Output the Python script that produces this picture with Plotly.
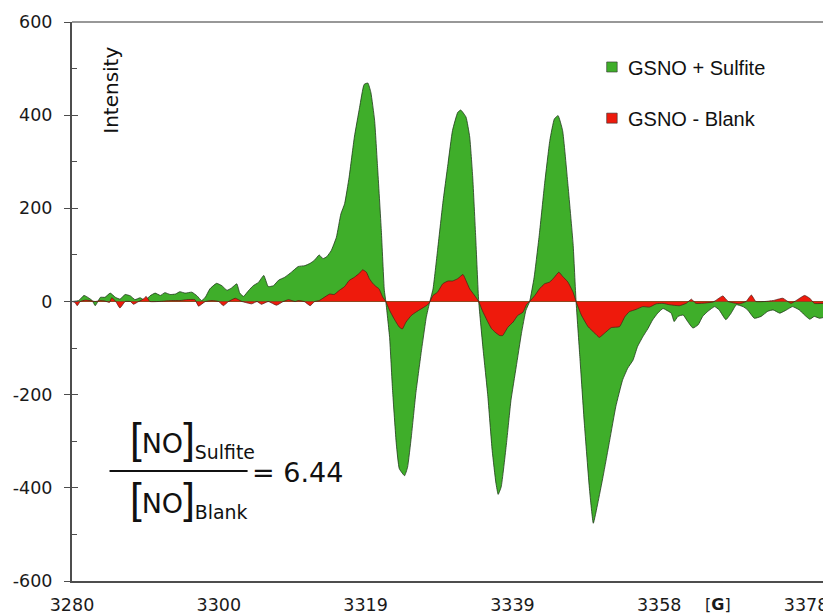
import plotly.graph_objects as go

# ---------------- data ----------------
green_x = [3280.0, 3280.9, 3281.6, 3282.2, 3282.7, 3283.1, 3283.8, 3284.4, 3285.1, 3285.8,
           3286.4, 3287.1, 3287.8, 3288.4, 3289.1, 3289.8, 3290.4, 3291.1, 3291.8, 3292.4,
           3293.1, 3293.8, 3294.4, 3295.1, 3296.0, 3296.7, 3297.3, 3297.8, 3298.4, 3299.3,
           3300.0, 3300.7, 3301.3, 3302.0, 3302.4, 3302.9, 3303.6, 3304.2, 3304.9, 3305.6,
           3306.2, 3306.9, 3307.6, 3308.4, 3309.3, 3310.2, 3311.1, 3311.8, 3312.4, 3313.0,
           3313.5, 3314.0, 3314.6, 3315.3, 3315.9, 3316.4, 3317.0, 3317.7, 3318.4, 3319.0,
           3319.5, 3319.9, 3320.4, 3320.8, 3321.3, 3321.7, 3321.9, 3322.4, 3322.8, 3323.3,
           3323.7, 3324.4, 3324.8, 3325.3, 3325.9, 3326.6, 3327.3, 3327.7, 3328.2, 3328.8,
           3329.5, 3330.2, 3330.8, 3331.5, 3331.9, 3332.6, 3333.1, 3333.5, 3333.9, 3334.3,
           3334.9, 3335.5, 3336.1, 3336.6, 3336.9, 3337.3, 3338.0, 3338.6, 3339.3, 3340.0,
           3340.6, 3341.1, 3341.7, 3342.4, 3343.1, 3343.8, 3344.4, 3344.9, 3345.5, 3346.2,
           3346.9, 3347.3, 3347.8, 3348.4, 3349.1, 3349.6, 3350.2, 3350.9, 3351.8, 3352.6,
           3353.5, 3354.2, 3354.9, 3355.5, 3356.2, 3356.9, 3357.5, 3358.2, 3358.9, 3359.3,
           3360.0, 3360.4, 3360.9, 3361.6, 3362.2, 3362.9, 3363.6, 3364.2, 3364.9, 3365.8,
           3366.4, 3367.3, 3368.0, 3368.7, 3369.6, 3370.2, 3371.1, 3372.0, 3372.9, 3373.6,
           3374.5, 3375.4, 3376.2, 3377.1, 3377.8, 3378.5, 3379.1, 3379.8, 3380.4]
green_y = [0, 2, 13, 8, 2, -9, 9, 9, 18, 9,
           5, 15, 12, 4, 8, 2, 12, 18, 13, 19,
           15, 16, 21, 18, 20, 12, 2, 9, 27, 39,
           34, 24, 29, 38, 18, 11, 24, 34, 41, 56,
           32, 34, 46, 52, 63, 75, 77, 82, 89, 100,
           92, 96, 109, 138, 188, 210, 267, 353, 417, 466,
           469, 449, 389, 288, 152, 24, 0, -77, -191, -306,
           -359, -374, -356, -291, -198, -112, -34, -5, 27, 109,
           210, 296, 367, 406, 411, 396, 353, 267, 138, 0,
           -105, -200, -320, -390, -414, -398, -306, -213, -141, -69,
           -19, 0, 52, 145, 253, 346, 392, 399, 367, 253,
           124, 0, -118, -261, -405, -476, -433, -376, -297, -226,
           -169, -143, -126, -97, -76, -58, -40, -25, -15, -18,
           -25, -43, -32, -29, -43, -57, -50, -32, -21, -11,
           -18, -39, -25, -7, -11, -18, -36, -32, -21, -18,
           -25, -18, -11, -18, -29, -38, -32, -36, -34]

red_x = [3280.0, 3280.4, 3280.7, 3281.1, 3281.8, 3282.4, 3283.1, 3283.8, 3284.4, 3285.0,
         3285.3, 3285.8, 3286.4, 3287.1, 3287.8, 3288.2, 3288.9, 3289.5, 3289.9, 3290.4,
         3291.5, 3292.4, 3293.3, 3294.4, 3295.3, 3296.4, 3296.9, 3297.8, 3298.7, 3299.6,
         3300.2, 3300.9, 3301.8, 3302.7, 3304.0, 3304.7, 3305.3, 3306.2, 3307.3, 3308.2,
         3308.9, 3309.8, 3310.2, 3311.0, 3311.8, 3312.4, 3313.0, 3313.5, 3314.4, 3315.0,
         3315.7, 3316.4, 3317.0, 3317.7, 3318.4, 3318.8, 3319.3, 3319.7, 3320.2, 3320.6,
         3321.0, 3321.5, 3321.9, 3322.4, 3323.0, 3323.7, 3324.1, 3324.6, 3325.3, 3325.9,
         3326.6, 3327.3, 3327.7, 3328.2, 3328.8, 3329.5, 3330.2, 3330.8, 3331.5, 3332.2,
         3332.6, 3333.1, 3333.7, 3334.3, 3334.8, 3335.4, 3336.0, 3336.5, 3337.1, 3337.5,
         3338.2, 3338.9, 3339.5, 3340.2, 3340.7, 3341.1, 3341.8, 3342.4, 3343.1, 3343.8,
         3344.4, 3345.0, 3345.5, 3346.2, 3346.9, 3347.3, 3348.0, 3348.9, 3349.8, 3350.4,
         3351.1, 3352.0, 3353.1, 3353.8, 3354.4, 3355.3, 3356.2, 3357.1, 3358.0, 3358.9,
         3359.8, 3361.1, 3362.0, 3362.7, 3363.3, 3365.6, 3366.9, 3367.6, 3369.1, 3370.0,
         3370.7, 3371.3, 3372.5, 3373.6, 3374.9, 3376.0, 3377.8, 3378.5, 3379.1, 3380.4]
red_y = [0, -2, -9, 0, 3, 2, 0, 2, 1, -2,
         8, 1, -14, 0, 0, -6, 0, 5, 11, 0,
         0, 1, 2, 2, 4, 4, -10, 0, 2, 0,
         -9, 0, 7, 0, -5, 0, -6, 0, -8, 0,
         4, 0, 2, 0, -9, 0, 2, 7, 16, 15,
         24, 32, 45, 52, 61, 68, 63, 49, 38, 32,
         27, 9, 0, -19, -37, -55, -59, -44, -30, -23,
         -16, -9, -3, 13, 20, 38, 44, 44, 49, 58,
         45, 27, 14, 0, -20, -40, -58, -66, -73, -73,
         -55, -44, -30, -23, -6, 0, 13, 27, 38, 42,
         52, 63, 54, 42, 20, 0, -29, -54, -68, -77,
         -68, -56, -54, -33, -22, -17, -11, -12, -5, -4,
         -7, -9, -4, 5, -4, -1, 12, 0, -5, 0,
         14, 0, 0, 2, 7, -4, 13, 7, -4, -4]

x_tick_vals = [3280.0, 3299.6, 3319.2, 3338.8, 3358.4, 3378.0]
x_tick_text = ["3280", "3300", "3319", "3339", "3358", "3378"]
y_tick_vals = [600, 400, 200, 0, -200, -400, -600]
y_tick_text = ["600", "400", "200", "0", "-200", "-400", "-600"]
series_names = ["GSNO + Sulfite", "GSNO - Blank"]
series_colors = ["#3fae2a", "#ee1a0c"]
ratio_text = "6.44"

# ---------------- figure ----------------
fig = go.Figure()
fig.add_trace(go.Scatter(
    x=green_x, y=green_y, name=series_names[0], fill="tozeroy", mode="lines",
    line=dict(color="#1f3a1a", width=0.8, shape="spline", smoothing=0.4),
    fillcolor=series_colors[0], showlegend=False, yaxis="y"))
fig.add_trace(go.Scatter(
    x=red_x, y=red_y, name=series_names[1], fill="tozeroy", mode="lines",
    line=dict(color="#4a1a14", width=0.7, shape="spline", smoothing=0.4),
    fillcolor=series_colors[1], showlegend=False, yaxis="y2"))

# the page adds an 8px body margin, so the figure is 8px smaller and margins shifted
tick_font = dict(family="DejaVu Sans", size=17.5, color="#1a1a1a")
fig.update_layout(
    width=823, height=608,
    margin=dict(l=64, r=7, t=14, b=35, autoexpand=False),
    paper_bgcolor="white", plot_bgcolor="white",
    xaxis=dict(range=[3280, 3380.4], tickvals=x_tick_vals, ticktext=x_tick_text,
               ticks="", showgrid=False, zeroline=False, showline=True,
               linecolor="#4d4d4d", linewidth=2, tickfont=tick_font,
               ticklabelstandoff=7, automargin=False),
    yaxis=dict(range=[-600, 600], tickvals=y_tick_vals, ticktext=y_tick_text,
               ticks="outside", ticklen=6,
               tickwidth=1.3, tickcolor="#4d4d4d", showgrid=False,
               zeroline=True, zerolinecolor="#333333", zerolinewidth=1,
               showline=True, linecolor="#4d4d4d", linewidth=2, tickfont=tick_font,
               ticklabelstandoff=8, automargin=False,
               minor=dict(tickvals=[500, 300, 100, -100, -300, -500], ticks="inside",
                          ticklen=5, tickcolor="#4d4d4d", tickwidth=1.2, showgrid=False)),
    yaxis2=dict(range=[-600, 600], overlaying="y", side="left", anchor="x",
                tickvals=y_tick_vals, ticks="inside", ticklen=6, tickwidth=1.3,
                tickcolor="#4d4d4d", showticklabels=False, showgrid=False,
                zeroline=False, showline=False, automargin=False),
    showlegend=False,
)

# frame top/right
fig.add_shape(type="path", xref="paper", yref="paper",
              path="M 0 1 L 1 1 L 1 0", line=dict(color="#777777", width=1.5))

# legend (drawn manually)
leg_y = [0.9195, 0.828]
for name, col, yy in zip(series_names, series_colors, leg_y):
    fig.add_shape(type="rect", xref="paper", yref="paper",
                  x0=0.711, x1=0.725, y0=yy - 0.009, y1=yy + 0.009,
                  fillcolor=col, line=dict(color="#333333", width=0.6))
    fig.add_annotation(xref="paper", yref="paper", x=0.737, y=yy - 0.002,
                       xanchor="left", yanchor="middle", showarrow=False,
                       text=name, font=dict(family="Liberation Sans", size=20, color="#111111"))

# y axis title inside the plot
fig.add_annotation(xref="paper", yref="paper", x=0.0526, y=0.878, textangle=-90,
                   xanchor="center", yanchor="middle",
                   showarrow=False, text="Intensity",
                   font=dict(family="DejaVu Sans", size=20, color="#111111"))

# x unit label
fig.add_annotation(xref="x", yref="paper", x=3366.3, y=0, yshift=-23, yanchor="middle",
                   showarrow=False, text="[<b>G</b>]",
                   font=dict(family="DejaVu Sans", size=16, color="#1a1a1a"))

# ratio formula (tall brackets)
ffont = dict(family="DejaVu Sans", size=27, color="#111111")
big = "<span style='font-size:42px;font-family:Liberation Sans'>"
fig.add_annotation(xref="paper", yref="paper", x=0.0739, y=0.254, xanchor="left",
                   yanchor="middle", showarrow=False,
                   text=big + "[</span>NO" + big + "]</span><sub>Sulfite</sub>", font=ffont)
fig.add_annotation(xref="paper", yref="paper", x=0.0739, y=0.146, xanchor="left",
                   yanchor="middle", showarrow=False,
                   text=big + "[</span>NO" + big + "]</span><sub>Blank</sub>", font=ffont)
fig.add_shape(type="line", xref="paper", yref="paper", x0=0.0499, x1=0.2335,
              y0=0.1968, y1=0.1968, line=dict(color="#111111", width=2))
fig.add_annotation(xref="paper", yref="paper", x=0.2362, y=0.194, xanchor="left",
                   yanchor="middle", showarrow=False,
                   text="= " + ratio_text, font=ffont)

fig.write_html("out.html")
